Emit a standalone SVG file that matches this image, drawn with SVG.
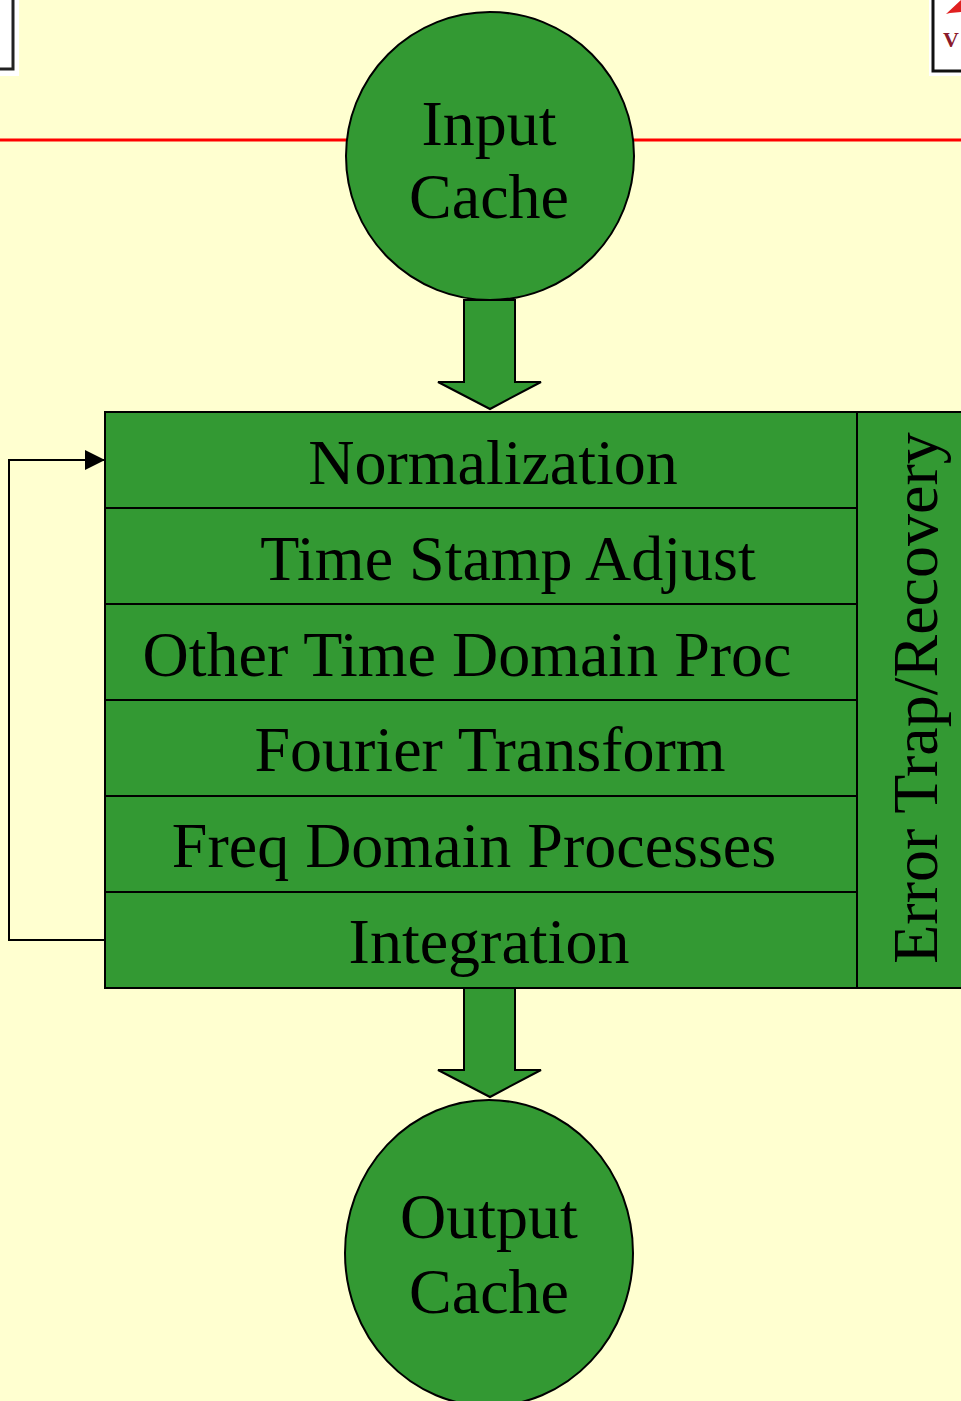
<svg xmlns="http://www.w3.org/2000/svg" width="961" height="1401" viewBox="0 0 961 1401">
  <style>
    .bg { fill: #FFFFD0; }
    .node { fill: #339933; stroke: #000; stroke-width: 2; }
    .lbl { font-family: "Liberation Serif", "Times New Roman", serif; font-size: 64px; fill: #000; }
    .wire { fill: none; stroke: #000; stroke-width: 2; }
    .rule { stroke: #FF0000; stroke-width: 3; }
  </style>
  <defs>
    <marker id="tri" markerWidth="20" markerHeight="20" refX="20" refY="10" orient="auto" markerUnits="userSpaceOnUse" viewBox="0 0 20 20">
      <path d="M0,0 L20,10 L0,20 Z" fill="#000"/>
    </marker>
  </defs>

  <rect class="bg" x="0" y="0" width="961" height="1401"/>

  <!-- header rule -->
  <line class="rule" x1="0" y1="140" x2="961" y2="140"/>

  <!-- corner frames -->
  <g id="corner-left">
    <rect x="0" y="0" width="19" height="76" fill="#fff"/>
    <path d="M13,0 V69 H0" fill="none" stroke="#222" stroke-width="3"/>
  </g>
  <g id="corner-right">
    <rect x="929" y="0" width="32" height="76" fill="#fff"/>
    <path d="M961,71 H933 V0" fill="none" stroke="#111" stroke-width="3"/>
    <polygon points="946,14 961,0 961,12 950,13" fill="#E02020"/>
    <text x="943" y="47" font-family="Liberation Serif, serif" font-size="22" font-weight="bold" fill="#8B1A2B">V</text>
  </g>

  <g id="input-cache">
    <circle class="node" cx="490" cy="156" r="144"/>
    <text class="lbl" x="489" y="145" text-anchor="middle">Input</text>
    <text class="lbl" x="489" y="218" text-anchor="middle">Cache</text>
  </g>

  <g id="pipeline">
    <rect class="node" x="105" y="412" width="870" height="576"/>
    <line class="wire" x1="857" y1="412" x2="857" y2="988"/>
    <line class="wire" x1="105" y1="508" x2="857" y2="508"/>
    <line class="wire" x1="105" y1="604" x2="857" y2="604"/>
    <line class="wire" x1="105" y1="700" x2="857" y2="700"/>
    <line class="wire" x1="105" y1="796" x2="857" y2="796"/>
    <line class="wire" x1="105" y1="892" x2="857" y2="892"/>
    <text class="lbl" x="493" y="484" text-anchor="middle">Normalization</text>
    <text class="lbl" x="508" y="580" text-anchor="middle">Time Stamp Adjust</text>
    <text class="lbl" x="467" y="676" text-anchor="middle">Other Time Domain Proc</text>
    <text class="lbl" x="490" y="771" text-anchor="middle">Fourier Transform</text>
    <text class="lbl" x="474" y="867" text-anchor="middle">Freq Domain Processes</text>
    <text class="lbl" x="489" y="963" text-anchor="middle">Integration</text>
    <text class="lbl" transform="translate(937,698) rotate(-90)" text-anchor="middle">Error Trap/Recovery</text>
  </g>

  <g id="output-cache">
    <ellipse class="node" cx="489" cy="1253" rx="144" ry="153"/>
    <text class="lbl" x="489" y="1238" text-anchor="middle">Output</text>
    <text class="lbl" x="489" y="1313" text-anchor="middle">Cache</text>
  </g>

  <g id="connectors">
    <polygon class="node" points="464,300 515,300 515,382 541,382 490,409 438,382 464,382"/>
    <polygon class="node" points="464,988 515,988 515,1070 541,1070 490,1097 438,1070 464,1070"/>
    <polyline class="wire" points="105,940 9,940 9,460 105,460" marker-end="url(#tri)"/>
  </g>
</svg>
